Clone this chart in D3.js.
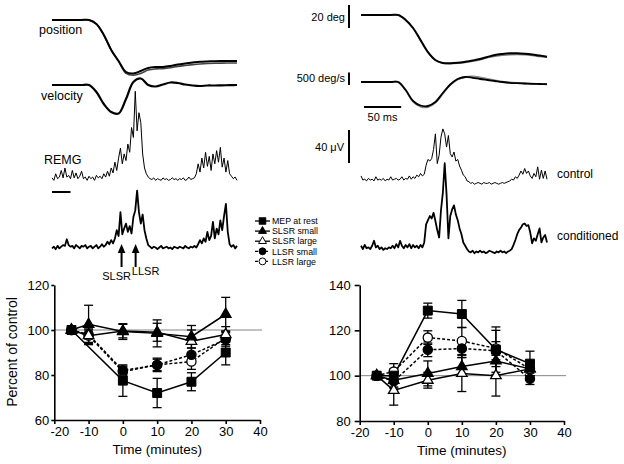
<!DOCTYPE html>
<html><head><meta charset="utf-8">
<script src="https://cdn.jsdelivr.net/npm/d3@7"></script>
<style>
body{margin:0;background:#fff}
svg{display:block;font-family:"Liberation Sans",Arial,Helvetica,sans-serif}
</style>
</head><body>
<svg id="c" width="624" height="464"></svg>
<script>
// ---------------- DATA ----------------
// Kinematic traces, one sample every 10 ms from 0 to 250 ms
const kinStepMs = 10;
const posLeftA  = [0,0,0,0,0,0,-3.5,-13,-26,-35.7,-45.2,-46.5,-44.3,-41.7,-40.9,-40.9,-40,-38.7,-37.8,-37,-36.3,-36,-35.8,-35.7,-35.7,-35.7];
const posLeftB  = [0,0,0,0,0,0,-3.5,-13,-26,-36,-46.5,-48,-46.5,-43.5,-42.5,-42.3,-41.5,-40.3,-39.5,-38.8,-38.2,-37.8,-37.6,-37.5,-37.4,-37.4];
const velLeft   = [0,0,0,0,0,0,-280,-760,-1080,-1140,-560,120,260,0,-60,20,100,80,20,-20,-40,-20,-20,-12,-8,0];
const posRightA = [0,0,0,0,0,0,-4.3,-11.3,-21.7,-32.2,-39.1,-41.7,-42,-41.6,-40.7,-39.6,-38.3,-36.5,-34.8,-33.9,-33.3,-33.2,-33.6,-34.3,-35.3,-36.3];
const posRightB = [0,0,0,0,0,0,-4.3,-11.5,-22,-32.5,-39.5,-42,-42.4,-42,-41.2,-40.2,-38.9,-37,-35.8,-35,-34.5,-34.3,-34.6,-35.2,-36,-36.8];
const velRightA = [0,0,0,0,0,0,-320,-760,-940,-960,-800,-440,-100,120,200,168,120,80,40,0,-32,-48,-60,-72,-80,-88];
const velRightB = [0,0,0,0,0,0,-320,-780,-980,-1000,-820,-460,-110,110,200,220,180,120,60,10,-24,-44,-56,-70,-78,-86];

// Rectified EMG (µV), one sample every 2.5 ms from 0 to 250 ms
const emgStepMs = 2.5;
const emgLeftControl = [5,2,10,4,6,14,5,17,6,8,4,14,5,11,4,7,13,4,6,2,7,4,6,2,8,5,7,4,10,6,13,7,17,11,24,14,29,41,22,34,26,46,36,66,54,110,62,84,72,34,17,10,6,
  4,3,5,2,4,3,2,5,3,4,2,3,5,3,4,2,4,3,5,2,3,6,3,4,5,
  10,22,12,29,17,36,19,31,14,34,22,38,24,42,18,29,12,26,10,7,4,6,2];
const emgLeftCond = [2,4,1,5,2,4,6,5,13,6,4,5,2,6,4,2,5,4,6,2,4,5,2,4,6,2,4,7,4,6,10,7,12,8,14,24,17,46,19,26,32,22,29,20,40,48,72,46,32,43,24,14,6,4,
  2,4,3,1,3,5,2,3,4,2,3,1,4,3,2,4,3,2,5,3,2,4,3,5,3,
  7,12,8,14,10,22,12,17,34,14,26,19,36,24,41,56,22,7,4,6,2,5];
const emgRightControl = [11,6,7,5,8,6,7,5,10,6,7,6,8,5,7,6,10,6,7,8,6,7,10,6,8,7,11,7,10,8,12,10,14,11,13,24,31,29,32,43,62,26,36,58,68,62,46,60,38,34,40,29,31,23,18,12,10,5,4,
  2,3,1,2,3,2,1,3,2,2,3,1,2,3,2,1,2,3,2,3,4,
  5,7,6,10,8,12,17,13,20,14,17,11,8,14,10,22,7,18,8,17,7];
const emgRightCond = [10,6,11,7,8,6,10,16,8,10,6,8,5,7,6,8,7,10,7,12,8,16,10,7,11,8,12,7,11,8,10,7,11,8,14,36,41,46,43,50,40,29,20,53,74,110,72,19,46,54,59,48,41,31,24,14,10,6,
  3,2,4,1,3,2,4,2,3,1,2,4,3,2,1,3,2,4,2,3,1,3,4,
  6,11,17,24,29,32,36,37,34,35,26,13,19,16,24,31,14,20,23,14];

// reflex latencies marked by arrows (ms)
const reflexNames = ["SLSR","LLSR"];
const reflexTimes = [94, 113];

// Time course plots
const times = [-15, -10, 0, 10, 20, 30];
const xTickValues = [-20, -10, 0, 10, 20, 30, 40];
const yTicksLeft = [60, 80, 100, 120];
const yTicksRight = [80, 100, 120, 140];
const seriesNames = ["MEP at rest", "SLSR small", "SLSR large", "LLSR small", "LLSR large"];

const leftMEP        = [100, null, 77.5, 72, 77, 90];
const leftMEPErr     = [0, 0, 7, 6.5, 4, 5.5];
const leftSLSRsmall  = [100, 102.5, 99.3, 98.5, 97, 107];
const leftSLSRsmallErr = [0, 8.5, 3.5, 6, 5, 7.5];
const leftSLSRlarge  = [100, 97.5, 99.5, 99, 95, 98];
const leftSLSRlargeErr = [0, 3, 3, 4, 5, 3.5];
const leftLLSRsmall  = [100, 98, 82, 84.5, 89, 95.8];
const leftLLSRsmallErr = [0, 2, 2, 3, 3, 3];
const leftLLSRlarge  = [100, 97.5, 81.5, 84.5, 86, 96.5];
const leftLLSRlargeErr = [0, 4, 2, 2.5, 3.5, 3];

const rightMEP        = [100, 100, 128.7, 127.2, 111.5, 105.3];
const rightMEPErr     = [0, 3, 3.3, 6, 10, 5.5];
const rightSLSRsmall  = [100, 98, 101, 104, 106.5, 103];
const rightSLSRsmallErr = [0, 3, 5.5, 4, 6, 3];
const rightSLSRlarge  = [100, 93.5, 98, 101, 100, 103];
const rightSLSRlargeErr = [0, 6.5, 3.5, 8, 9, 3];
const rightLLSRsmall  = [100, 97.5, 111.4, 112, 111, 98.6];
const rightLLSRsmallErr = [0, 3, 3, 4, 4, 2.5];
const rightLLSRlarge  = [100, 101.8, 116.8, 115.3, 112, 103];
const rightLLSRlargeErr = [0, 3.5, 3, 6, 8, 3];

// ---------------- DRAWING ----------------
const svg = d3.select("#c");
const FONT = '"Liberation Sans",Arial,Helvetica,sans-serif';

function text(x, y, s, size, anchor) {
  return svg.append("text").attr("x", x).attr("y", y).attr("font-size", size)
    .attr("text-anchor", anchor || "start").attr("fill", "#000").text(s);
}

function drawTrace(values, step, xs, ys, width, color, curve) {
  const line = d3.line().x((d, i) => xs(i * step)).y(d => ys(d));
  if (curve) line.curve(curve);
  svg.append("path").attr("d", line(values)).attr("fill", "none")
    .attr("stroke", color).attr("stroke-width", width).attr("stroke-linejoin", "round");
}

// scales for the trace panels
const xTL = d3.scaleLinear().domain([0, 250]).range([52, 237]);
const xTR = d3.scaleLinear().domain([0, 250]).range([361, 547]);
const posL = d3.scaleLinear().domain([0, -20]).range([20, 43]);
const posR = d3.scaleLinear().domain([0, -20]).range([15, 38]);
const velL = d3.scaleLinear().domain([0, -500]).range([85, 97.5]);
const velR = d3.scaleLinear().domain([0, -500]).range([82, 94.5]);
const emgLC = d3.scaleLinear().domain([0, 40]).range([182, 149]);
const emgLK = d3.scaleLinear().domain([0, 40]).range([250, 217]);
const emgRC = d3.scaleLinear().domain([0, 40]).range([185, 152]);
const emgRK = d3.scaleLinear().domain([0, 40]).range([254, 221]);

// left traces
drawTrace(posLeftB, kinStepMs, xTL, posL, 1.6, "#444", d3.curveCatmullRom);
drawTrace(posLeftA, kinStepMs, xTL, posL, 2, "#000", d3.curveCatmullRom);
drawTrace(velLeft, kinStepMs, xTL, velL, 2.2, "#000", d3.curveCatmullRom);
drawTrace(emgLeftControl, emgStepMs, xTL, emgLC, 1, "#000");
drawTrace(emgLeftCond, emgStepMs, xTL, emgLK, 1.8, "#000");

// right traces
drawTrace(posRightB, kinStepMs, xTR, posR, 1.6, "#777", d3.curveCatmullRom);
drawTrace(posRightA, kinStepMs, xTR, posR, 2, "#000", d3.curveCatmullRom);
drawTrace(velRightB, kinStepMs, xTR, velR, 2, "#888", d3.curveCatmullRom);
drawTrace(velRightA, kinStepMs, xTR, velR, 1.8, "#000", d3.curveCatmullRom);
drawTrace(emgRightControl, emgStepMs, xTR, emgRC, 1, "#000");
drawTrace(emgRightCond, emgStepMs, xTR, emgRK, 1.8, "#000");

// trace labels
text(39, 34, "position", 12.5);
text(41, 100, "velocity", 12.5);
text(44, 164, "REMG", 12.5);
text(557, 178, "control", 12);
text(557, 240, "conditioned", 12);

// scale bars
function vbar(x, y0, len) {
  svg.append("line").attr("x1", x).attr("x2", x).attr("y1", y0).attr("y2", y0 + len)
    .attr("stroke", "#000").attr("stroke-width", 2);
}
function hbar(x0, x1, y) {
  svg.append("line").attr("x1", x0).attr("x2", x1).attr("y1", y).attr("y2", y)
    .attr("stroke", "#000").attr("stroke-width", 2);
}
vbar(349, 5, Math.abs(posR(-20) - posR(0)));
text(345, 21, "20 deg", 11, "end");
vbar(349, 72.5, Math.abs(velR(-500) - velR(0)));
text(345, 82, "500 deg/s", 11, "end");
hbar(xTR(4), xTR(54), 107);
text((xTR(4) + xTR(54)) / 2, 121, "50 ms", 11, "middle");
vbar(349, 130, Math.abs(emgRC(40) - emgRC(0)));
svg.append("text").attr("x", 344).attr("y", 151).attr("font-size", 11).attr("text-anchor", "end")
  .text("40 \u03BCV");
hbar(xTL(0), xTL(25), 192);

// reflex arrows
reflexTimes.forEach((t, i) => {
  const x = xTL(t);
  svg.append("line").attr("x1", x).attr("x2", x).attr("y1", 251).attr("y2", 267)
    .attr("stroke", "#000").attr("stroke-width", 2);
  svg.append("path").attr("d", `M${x},244 L${x - 3.8},253 L${x + 3.8},253 Z`).attr("fill", "#000");
});
text(xTL(reflexTimes[0]) - 5, 280, reflexNames[0], 11, "middle");
text(xTL(reflexTimes[1]) + 10, 275, reflexNames[1], 11, "middle");

// ---------------- TIME COURSE PLOTS ----------------
const styles = [
  {shape: "square", fill: "#000", dash: null},
  {shape: "triangle", fill: "#000", dash: null},
  {shape: "triangle", fill: "#fff", dash: null},
  {shape: "circle", fill: "#000", dash: "3,2"},
  {shape: "circle", fill: "#fff", dash: "3,2"}
];

function marker(g, shape, fill, x, y) {
  if (shape === "circle") {
    g.append("circle").attr("cx", x).attr("cy", y).attr("r", 4.6)
      .attr("fill", fill).attr("stroke", "#000").attr("stroke-width", 1.3);
  } else if (shape === "square") {
    g.append("path").attr("d", d3.symbol(d3.symbolSquare, 80)()).attr("transform", `translate(${x},${y})`)
      .attr("fill", fill).attr("stroke", "#000").attr("stroke-width", 1);
  } else {
    g.append("path").attr("d", d3.symbol(d3.symbolTriangle, 48)()).attr("transform", `translate(${x},${y})`)
      .attr("fill", fill).attr("stroke", "#000").attr("stroke-width", 1.3);
  }
}

function plot(cfg) {
  const x = d3.scaleLinear().domain([-20, 40]).range(cfg.xr);
  const y = d3.scaleLinear().domain(cfg.yd).range(cfg.yr);
  const g = svg.append("g");
  // reference line at 100 %
  g.append("line").attr("x1", x(-20)).attr("x2", x(40.6)).attr("y1", y(100)).attr("y2", y(100))
    .attr("stroke", "#777").attr("stroke-width", 0.9);
  // axes
  const ax = g.append("g").attr("transform", `translate(0,${cfg.yr[0]})`)
    .call(d3.axisBottom(x).tickValues(xTickValues).tickSize(4).tickPadding(3).tickSizeOuter(0).tickFormat(d3.format("d")));
  const ay = g.append("g").attr("transform", `translate(${cfg.xr[0]},0)`)
    .call(d3.axisLeft(y).tickValues(cfg.yTicks).tickSize(cfg.ytick).tickPadding(cfg.ypad).tickSizeOuter(0));
  [ax, ay].forEach(a => {
    a.selectAll("path,line").attr("stroke", "#000").attr("stroke-width", 1.6);
    a.selectAll("text").attr("font-size", 13).attr("font-family", FONT).attr("fill", "#000");
  });
  ax.selectAll("text").text(d => d < 0 ? "-" + Math.abs(d) : d)
    .attr("dx", d => d === -20 ? cfg.firstDx : 0);
  g.append("text").attr("x", (cfg.xr[0] + cfg.xr[1]) / 2).attr("y", cfg.yr[0] + 34)
    .attr("text-anchor", "middle").attr("font-size", 13.5).text("Time (minutes)");

  const order = [4, 3, 2, 1, 0];
  // lines
  order.forEach(k => {
    const vals = cfg.series[k];
    const line = d3.line().x(d => x(d[0])).y(d => y(d[1]));
    const pts = times.map((t, i) => [t, vals[i]]).filter(d => d[1] != null);
    g.append("path").attr("d", line(pts)).attr("fill", "none").attr("stroke", "#000")
      .attr("stroke-width", 1.5).attr("stroke-dasharray", styles[k].dash);
  });
  // error bars
  order.forEach(k => {
    const vals = cfg.series[k], errs = cfg.errs[k];
    times.forEach((t, i) => {
      if (vals[i] == null || !errs[i]) return;
      const cx = x(t), y0 = y(vals[i] - errs[i]), y1 = y(vals[i] + errs[i]);
      g.append("line").attr("x1", cx).attr("x2", cx).attr("y1", y0).attr("y2", y1)
        .attr("stroke", "#000").attr("stroke-width", 1.3);
      [y0, y1].forEach(yy => g.append("line").attr("x1", cx - 4.5).attr("x2", cx + 4.5)
        .attr("y1", yy).attr("y2", yy).attr("stroke", "#000").attr("stroke-width", 1.3));
    });
  });
  // markers
  order.forEach(k => {
    const vals = cfg.series[k];
    times.forEach((t, i) => {
      if (vals[i] == null) return;
      marker(g, styles[k].shape, styles[k].fill, x(t), y(vals[i]));
    });
  });
}

plot({
  xr: [54.3, 260], yd: [60, 120], yr: [420, 285], yTicks: yTicksLeft, ytick: 3, ypad: 2, firstDx: 5,
  series: [leftMEP, leftSLSRsmall, leftSLSRlarge, leftLLSRsmall, leftLLSRlarge],
  errs: [leftMEPErr, leftSLSRsmallErr, leftSLSRlargeErr, leftLLSRsmallErr, leftLLSRlargeErr]
});
plot({
  xr: [359.7, 564], yd: [80, 140], yr: [421, 285], yTicks: yTicksRight, ytick: 5, ypad: 4, firstDx: 0,
  series: [rightMEP, rightSLSRsmall, rightSLSRlarge, rightLLSRsmall, rightLLSRlarge],
  errs: [rightMEPErr, rightSLSRsmallErr, rightSLSRlargeErr, rightLLSRsmallErr, rightLLSRlargeErr]
});

// y axis title
svg.append("text").attr("transform", "translate(17,352) rotate(-90)")
  .attr("text-anchor", "middle").attr("font-size", 14).text("Percent of control");

// legend
const lg = svg.append("g");
seriesNames.forEach((name, k) => {
  const yy = 221 + k * 10.1;
  lg.append("line").attr("x1", 255).attr("x2", 270).attr("y1", yy).attr("y2", yy)
    .attr("stroke", "#000").attr("stroke-width", 1.3).attr("stroke-dasharray", styles[k].dash);
  const m = lg.append("g").attr("transform", `translate(262.5,${yy}) scale(0.75) translate(-262.5,${-yy})`);
  marker(m, styles[k].shape, styles[k].fill, 262.5, yy);
  lg.append("text").attr("x", 272).attr("y", yy + 3.2).attr("font-size", 8.8).text(name);
});
</script>
</body></html>
